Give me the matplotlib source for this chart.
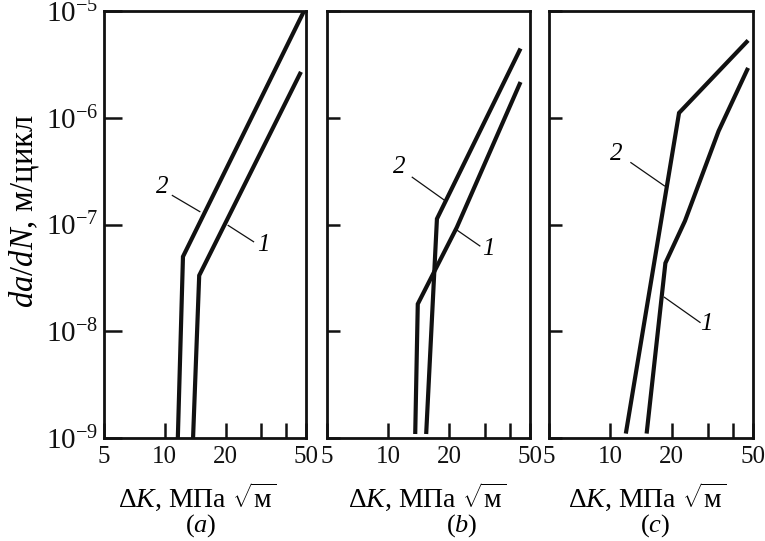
import matplotlib
matplotlib.use("Agg")
import matplotlib.pyplot as plt
from matplotlib.ticker import FixedLocator, FixedFormatter, NullLocator

plt.rcParams['font.family'] = ['Liberation Serif', 'DejaVu Serif']
plt.rcParams['mathtext.fontset'] = 'custom'
plt.rcParams['mathtext.rm'] = 'Liberation Serif'
plt.rcParams['mathtext.it'] = 'Liberation Serif:italic'
plt.rcParams['mathtext.bf'] = 'Liberation Serif:bold'

# ---- data (ΔK in MPa*sqrt(m), da/dN in m/cycle) ----
dk_a1 = [13.8, 14.8, 47.2]
v_a1 = [1.0e-9, 3.33e-8, 2.69e-6]
dk_a2 = [11.6, 12.3, 48.9]
v_a2 = [1.0e-9, 5.0e-8, 1.0e-5]

dk_b1 = [13.6, 14.0, 21.8, 44.9]
v_b1 = [1.09e-9, 1.8e-8, 9.4e-8, 2.16e-6]
dk_b2 = [15.4, 17.4, 44.9]
v_b2 = [1.09e-9, 1.13e-7, 4.45e-6]

dk_c1 = [15.05, 18.6, 23.2, 33.9, 47.3]
v_c1 = [1.1e-9, 4.35e-8, 1.08e-7, 7.5e-7, 2.93e-6]
dk_c2 = [11.9, 21.7, 47.3]
v_c2 = [1.1e-9, 1.11e-6, 5.3e-6]

x_ticks = [5, 10, 20, 30, 40, 50]
x_ticklabels = ['5', '10', '20', '', '', '50']
y_ticks = [1e-9, 1e-8, 1e-7, 1e-6, 1e-5]
y_ticklabels = [r'$10^{-9}$', r'$10^{-8}$', r'$10^{-7}$', r'$10^{-6}$', r'$10^{-5}$']
panel_labels = [r'($a$)', r'($b$)', r'($c$)']
xlabel = r'$\Delta K$, МПа $\sqrt{\mathrm{м}}$'
ylabel = r'$da/dN$, м/цикл'

# annotation positions (data coords): label, text pos, leader start, leader end
ann = {
    0: [('2', (9.75, 2.26e-7), (10.9, 1.87e-7), (14.9, 1.32e-7)),
        ('1', (30.8, 6.4e-8), (20.6, 9.8e-8), (27.5, 6.9e-8))],
    1: [('2', (11.3, 3.43e-7), (13.15, 2.77e-7), (19.1, 1.67e-7)),
        ('1', (31.1, 5.9e-8), (21.4, 9.1e-8), (28.3, 6.3e-8))],
    2: [('2', (10.7, 4.54e-7), (12.6, 3.8e-7), (18.4, 2.3e-7)),
        ('1', (29.7, 1.17e-8), (18.4, 2.08e-8), (27.5, 1.21e-8))],
}

W, H = 765, 541
fig = plt.figure(figsize=(W / 100, H / 100), dpi=100)
boxes = [(104, 306), (327, 530), (549, 753)]
xlabel_cx = [197, 427, 647]
plabel_cx = [201, 462, 655]
top_px, bot_px = 11, 438
series = [((dk_a1, v_a1), (dk_a2, v_a2)),
          ((dk_b1, v_b1), (dk_b2, v_b2)),
          ((dk_c1, v_c1), (dk_c2, v_c2))]

for i, (l, r) in enumerate(boxes):
    ax = fig.add_axes([l / W, 1 - bot_px / H, (r - l) / W, (bot_px - top_px) / H])
    ax.set_xscale('log')
    ax.set_yscale('log')
    ax.set_xlim(5, 50)
    ax.set_ylim(1e-9, 1e-5)
    for (xs, ys) in series[i]:
        ax.plot(xs, ys, color='#111111', lw=3.0, solid_capstyle='butt',
                solid_joinstyle='miter')
    for sp in ax.spines.values():
        sp.set_linewidth(2.0)
        sp.set_color('#111111')
    ax.xaxis.set_major_locator(FixedLocator(x_ticks))
    ax.xaxis.set_major_formatter(FixedFormatter(x_ticklabels))
    ax.xaxis.set_minor_locator(NullLocator())
    ax.yaxis.set_major_locator(FixedLocator(y_ticks))
    ax.yaxis.set_minor_locator(NullLocator())
    ax.tick_params(axis='x', direction='in', length=11, width=1.8,
                   labelsize=18, pad=6, top=False, colors='#111111')
    ylen = 13 if i == 0 else 9.5
    ax.tick_params(axis='y', direction='in', length=ylen, width=1.8,
                   labelsize=21, pad=4, right=False, colors='#111111')
    if i == 0:
        ax.yaxis.set_major_formatter(FixedFormatter(y_ticklabels))
        fig.text(24 / W, 1 - 211 / H, ylabel, fontsize=23.5, rotation=90,
                 ha='center', va='center')
    else:
        ax.yaxis.set_major_formatter(FixedFormatter([''] * len(y_ticks)))
    fig.text(xlabel_cx[i] / W, 1 - 507 / H, xlabel, fontsize=20,
             ha='center', va='baseline')
    fig.text(plabel_cx[i] / W, 1 - 532 / H, panel_labels[i], fontsize=19,
             ha='center', va='baseline')
    for lab, tp, s, e in ann[i]:
        ax.plot([s[0], e[0]], [s[1], e[1]], color='#111111', lw=0.9)
        ax.text(tp[0], tp[1], lab, fontsize=18, style='italic', ha='center',
                va='center')

fig.savefig('out.png', dpi=100)
